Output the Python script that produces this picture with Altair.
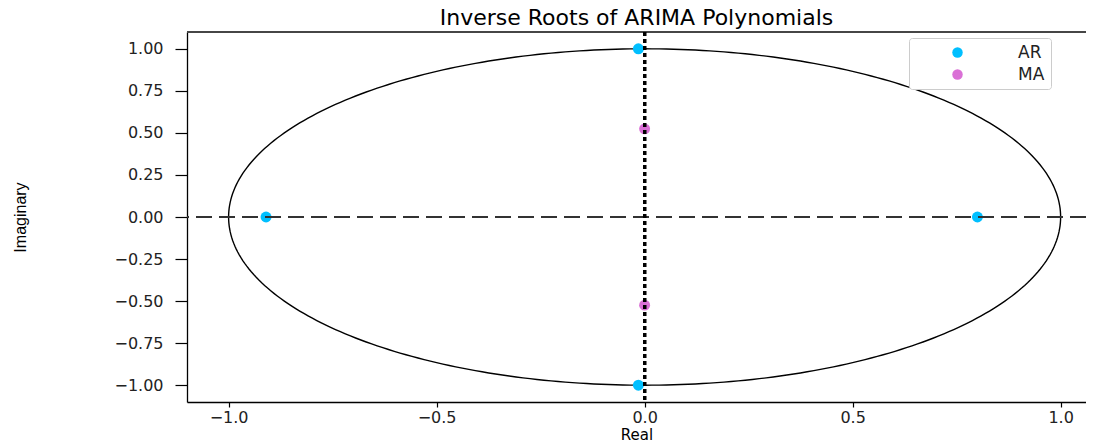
import altair as alt
import numpy as np
import pandas as pd

# Inverse roots
series = ["AR", "AR", "AR", "AR", "MA", "MA"]
real = [-0.91, 0.80, -0.015, -0.015, 0.0, 0.0]
imag = [0.0, 0.0, 1.0, -1.0, 0.524, -0.524]

x_ticks = [-1.0, -0.5, 0.0, 0.5, 1.0]
y_ticks = [-1.0, -0.75, -0.5, -0.25, 0.0, 0.25, 0.5, 0.75, 1.0]

x_domain = [-1.1, 1.061]
y_domain = [-1.1, 1.1]

roots = pd.DataFrame({"Real": real, "Imaginary": imag, "Type": series})

# unit circle (reference geometry)
theta = np.linspace(0, 2 * np.pi, 361)
circle = pd.DataFrame({"Real": np.cos(theta), "Imaginary": np.sin(theta), "order": np.arange(361)})

FONT = "DejaVu Sans"

xscale = alt.Scale(domain=x_domain, nice=False, zero=False)
yscale = alt.Scale(domain=y_domain, nice=False, zero=False)

circle_layer = alt.Chart(circle).mark_line(color="black", strokeWidth=1.4, clip=True).encode(
    x=alt.X("Real:Q", scale=xscale,
            axis=alt.Axis(values=x_ticks, format=".1f", title="Real", grid=False,
                          tickSize=5, labelPadding=2, titlePadding=2,
                          titleFont=FONT, titleFontSize=15)),
    y=alt.Y("Imaginary:Q", scale=yscale,
            axis=alt.Axis(values=y_ticks, format=".2f", title="Imaginary", grid=False,
                          tickSize=12, labelPadding=12, titlePadding=85,
                          titleFont="Liberation Sans", titleFontSize=16)),
    order="order:Q",
)

# top spine of the frame
top_spine = alt.Chart(roots).mark_rule(color="#444444", strokeWidth=1.2).encode(
    y=alt.value(0)
)

hline = alt.Chart(roots).mark_rule(color="#333333", strokeWidth=1.6, strokeDash=[16, 7]).encode(
    y=alt.datum(0.0)
)
vline = alt.Chart(roots).mark_rule(color="black", strokeWidth=3, strokeDash=[4, 3]).encode(
    x=alt.datum(0.0)
)

points = alt.Chart(roots).mark_point(filled=True, size=120, opacity=1, shape="circle").encode(
    x="Real:Q",
    y="Imaginary:Q",
    color=alt.Color("Type:N",
                    scale=alt.Scale(domain=["AR", "MA"], range=["#00BFFF", "#DA70D6"]),
                    legend=alt.Legend(title=None, orient="none", legendX=722, legendY=6,
                                      padding=6, symbolOffset=34, labelOffset=52,
                                      symbolType="circle", symbolSize=110,
                                      labelFont=FONT, labelFontSize=17, labelColor="#222222",
                                      rowPadding=4,
                                      strokeColor="#cccccc", fillColor="white",
                                      cornerRadius=3)),
)

chart = alt.layer(circle_layer, top_spine, points, hline, vline).properties(
    width=899,
    height=370,
    padding={"left": 179, "top": 24, "right": 0, "bottom": 42},
    autosize=alt.AutoSizeParams(type="none"),
    title=alt.Title("Inverse Roots of ARIMA Polynomials", font=FONT, fontSize=22,
                    fontWeight="normal", color="black", anchor="middle", offset=1),
).configure_view(
    stroke=None
).configure_axis(
    labelFont=FONT, labelFontSize=16, labelColor="#222222",
    titleFontWeight="normal", titleColor="black",
    domainColor="black", domainWidth=1.3, tickColor="black", tickWidth=1.2,
)

chart.save("out.html", embed_options={"renderer": "svg", "actions": False})
